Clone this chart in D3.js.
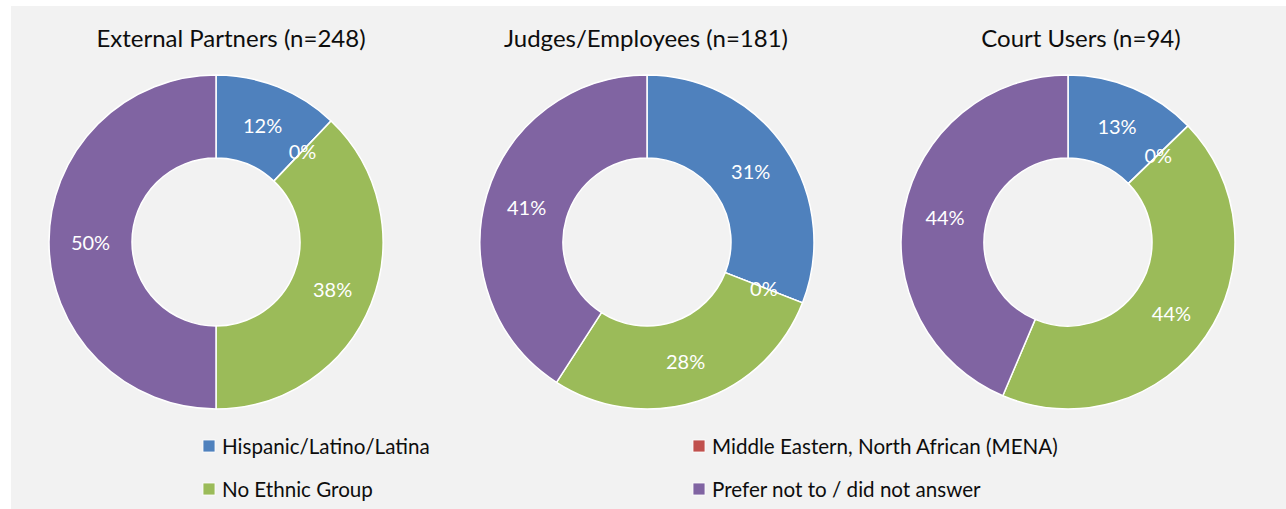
<!DOCTYPE html>
<html>
<head>
<meta charset="utf-8">
<script src="https://cdn.jsdelivr.net/npm/d3@7"></script>
<style>
  html, body { margin: 0; padding: 0; background: #ffffff; }
  svg { display: block; }
</style>
</head>
<body>
<svg id="chart" width="1286" height="509"></svg>
<script>
// Ethnicity breakdown by respondent group (respondent counts)
const categories = [
  "Hispanic/Latino/Latina",
  "Middle Eastern, North African (MENA)",
  "No Ethnic Group",
  "Prefer not to / did not answer"
];
const groups = ["External Partners", "Judges/Employees", "Court Users"];
const groupN = [248, 181, 94];
const externalPartners = [30, 0, 94, 124];
const judgesEmployees = [56, 0, 51, 74];
const courtUsers = [12, 0, 41, 41];
const seriesValues = [externalPartners, judgesEmployees, courtUsers];
const colors = ["#4f81bd", "#c0504d", "#9bbb59", "#8064a2"];

const W = 1286, H = 509;
const svg = d3.select("#chart");

// panel background
svg.append("rect")
  .attr("x", 11).attr("y", 6)
  .attr("width", W - 11).attr("height", H - 6)
  .attr("fill", "#f2f2f2");

// layout of the three doughnuts
const centersX = [216, 647, 1068];
const titleX = [231, 646, 1081];
const centerY = 242;
const outerR = 167;
const innerR = 84;

const pie = d3.pie().sort(null).value(d => d);
const arc = d3.arc().innerRadius(innerR).outerRadius(outerR);
const fmt = d3.format(".0%");

groups.forEach((g, gi) => {
  const vals = seriesValues[gi];
  const total = d3.sum(vals);
  const gEl = svg.append("g")
    .attr("transform", `translate(${centersX[gi]},${centerY})`);

  const arcs = pie(vals);

  gEl.selectAll("path.slice")
    .data(arcs)
    .join("path")
    .attr("class", "slice")
    .attr("d", arc)
    .attr("fill", (d, i) => colors[i])
    .attr("stroke", "#ffffff")
    .attr("stroke-width", 1.5)
    .attr("stroke-linejoin", "round");

  gEl.selectAll("text.lbl")
    .data(arcs)
    .join("text")
    .attr("class", "lbl")
    .attr("transform", d => `translate(${arc.centroid(d)})`)
    .attr("text-anchor", "middle")
    .attr("dominant-baseline", "central")
    .attr("font-family", "Lato, 'Open Sans', sans-serif")
    .attr("font-size", 20)
    .attr("fill", "#ffffff")
    .text(d => fmt(d.data / total));

  svg.append("text")
    .attr("x", titleX[gi])
    .attr("y", 47)
    .attr("text-anchor", "middle")
    .attr("font-family", "Lato, 'Open Sans', sans-serif")
    .attr("font-size", 24)
    .attr("fill", "#0d0d0d")
    .text(`${g} (n=${groupN[gi]})`);
});

// legend, two columns by two rows
const legendX = [203, 693];
const legendY = [446, 489];
const legend = svg.append("g");
categories.forEach((c, i) => {
  const col = i % 2, row = Math.floor(i / 2);
  const item = legend.append("g")
    .attr("transform", `translate(${legendX[col]},${legendY[row]})`);
  item.append("rect")
    .attr("x", 0).attr("y", -6)
    .attr("width", 12).attr("height", 12)
    .attr("fill", colors[i])
    .attr("stroke", "#ffffff")
    .attr("stroke-width", 0.8);
  item.append("text")
    .attr("x", 19).attr("y", 0)
    .attr("dominant-baseline", "central")
    .attr("font-family", "Lato, 'Open Sans', sans-serif")
    .attr("font-size", 20.6)
    .attr("fill", "#0d0d0d")
    .text(c);
});
</script>
</body>
</html>
